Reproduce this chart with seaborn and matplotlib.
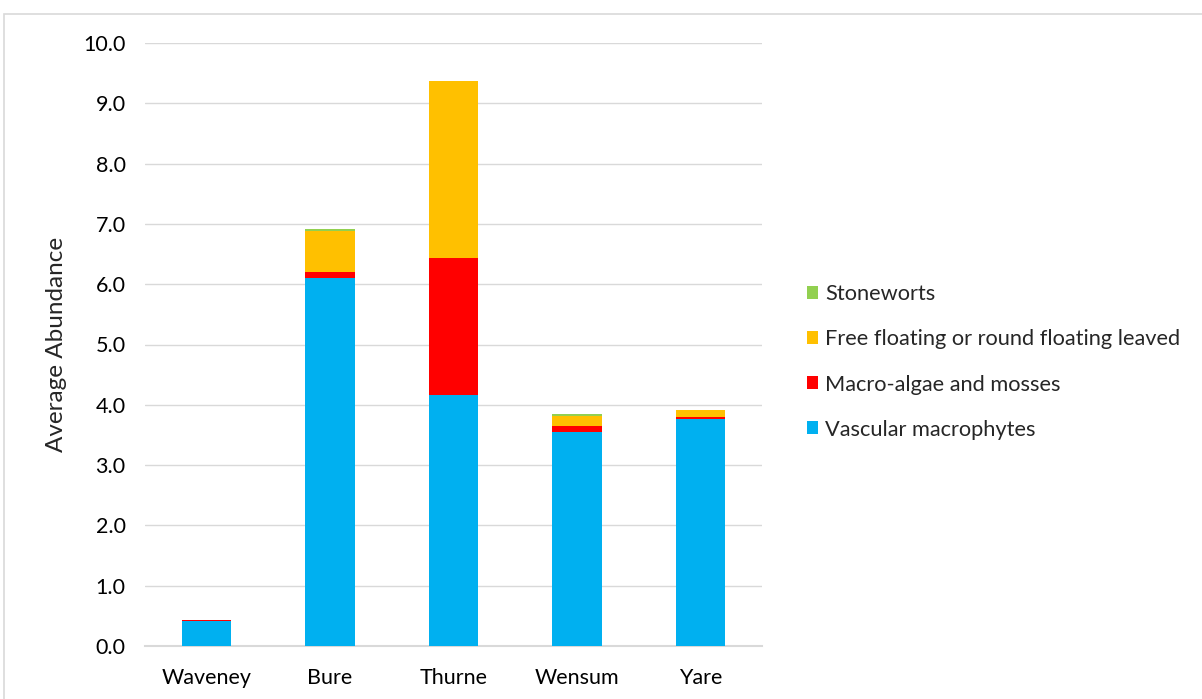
import matplotlib
matplotlib.use("Agg")
import matplotlib.pyplot as plt
from matplotlib.patches import Patch, Rectangle
import numpy as np
import pandas as pd
import seaborn as sns

rivers = ["Waveney", "Bure", "Thurne", "Wensum", "Yare"]
vascular = [0.41, 6.10, 4.16, 3.55, 3.76]
macro_algae = [0.02, 0.10, 2.27, 0.10, 0.04]
free_floating = [0.00, 0.69, 2.94, 0.17, 0.12]
stoneworts = [0.00, 0.03, 0.00, 0.03, 0.00]

groups = ["Vascular macrophytes", "Macro-algae and mosses",
          "Free floating or round floating leaved", "Stoneworts"]
colors = ["#00B0F0", "#FF0000", "#FFC000", "#92D050"]

sns.set_style("white")
plt.rcParams["font.family"] = ["Lato", "DejaVu Sans"]

layers = np.array([vascular, macro_algae, free_floating, stoneworts])
tops = np.cumsum(layers, axis=0)

fig = plt.figure(figsize=(12.02, 6.99), dpi=100)
ax = fig.add_axes([145 / 1202, 53 / 699, 617 / 1202, 603 / 699])

# stacked bars: draw cumulative totals from the top layer down
for i in range(len(groups) - 1, -1, -1):
    df = pd.DataFrame({"river": rivers, "value": tops[i]})
    sns.barplot(data=df, x="river", y="value", color=colors[i], width=0.4,
                saturation=1, linewidth=0, edgecolor="none", ax=ax, zorder=3)

ax.set_xlim(-0.5, 4.5)
ax.set_ylim(0, 10)
ax.set_yticks(np.arange(0, 10.01, 1.0))
ax.set_yticklabels([f"{v:.1f}" for v in np.arange(0, 10.01, 1.0)])
ax.yaxis.grid(True, color="#D9D9D9", linewidth=1, zorder=0)
ax.set_axisbelow(True)
for s in ["top", "right", "left"]:
    ax.spines[s].set_visible(False)
ax.spines["bottom"].set_color("#D9D9D9")
ax.spines["bottom"].set_linewidth(1.5)
ax.tick_params(axis="both", length=0, labelsize=15.5, colors="#000000")
ax.tick_params(axis="x", pad=16)
ax.tick_params(axis="y", pad=14)
ax.set_xlabel("")
ax.set_ylabel("Average Abundance", fontsize=17.5, labelpad=12)

handles = [Patch(facecolor=colors[i], edgecolor="none", label=groups[i])
           for i in range(len(groups) - 1, -1, -1)]
fig.legend(handles=handles, loc="center left", bbox_to_anchor=(787 / 1202, 1 - 362 / 699),
           frameon=False, fontsize=15.7, handlelength=0.54, handleheight=0.54,
           handletextpad=0.3, labelspacing=1.15)

fig.patches.append(Rectangle((4 / 1202, -0.1), 1.2, 1.1 - 14 / 699,
                             transform=fig.transFigure, fill=False,
                             edgecolor="#D9D9D9", linewidth=1.2))

fig.savefig("out.png", dpi=100)
